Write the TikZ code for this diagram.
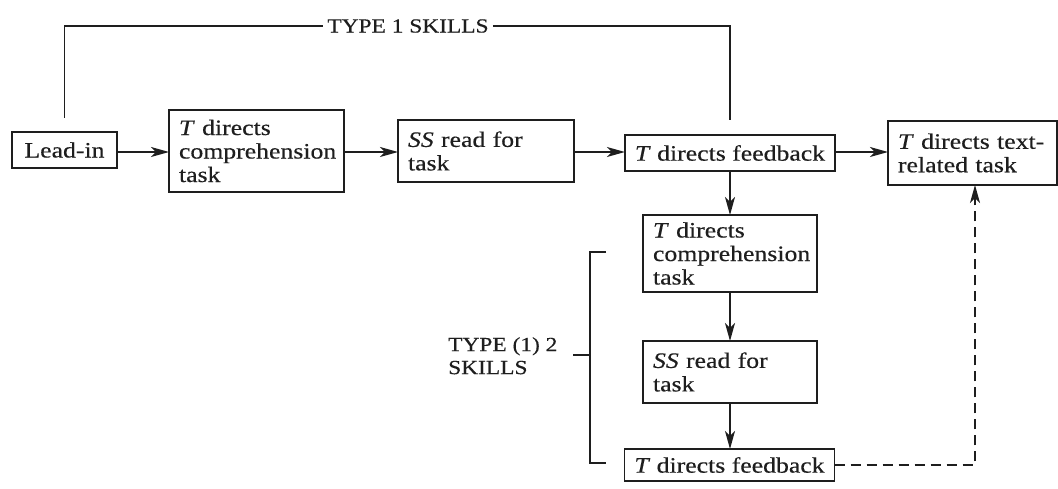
\documentclass[tikz,border=0pt]{standalone}
\usepackage{fontspec}
\setmainfont{Liberation Serif}[FakeStretch=1.17, FakeBold=0.35]
\usetikzlibrary{arrows.meta}
\definecolor{ink}{HTML}{1E1E1E}
\newcommand{\bxfont}{\fontsize{22}{23.5}\selectfont}
\newcommand{\lbfont}{\fontsize{20}{23}\selectfont}
\begin{document}
\begin{tikzpicture}[x=1pt,y=-1pt,
  box/.style={draw=ink, line width=1.5pt, inner xsep=10pt, inner ysep=0pt, outer sep=0pt, align=left, text=ink, font=\bxfont},
  lbl/.style={text=ink, font=\lbfont, inner sep=4pt},
  conn/.style={draw=ink, line width=1.4pt},
  tip/.style={-{Stealth[length=18pt,width=10pt,inset=5pt]}},
  arr/.style={conn, tip},
  dashline/.style={conn, dash pattern=on 10pt off 6pt}]
\useasboundingbox (0,0) rectangle (1058,489);
\fill[white] (0,0) rectangle (1058,489);

% main row
\node[box, minimum width=105pt, minimum height=36pt] (lead) at (64.5,150) {Lead-in};
\node[box, minimum width=175pt, minimum height=82pt, text width=155pt] (c1) at (256.5,151) {\textit{T} directs\\comprehension\\task};
\node[box, minimum width=176pt, minimum height=62pt, text width=156pt] (r1) at (486,151) {\textit{SS} read for\\task};
\node[box, minimum width=210pt, minimum height=36pt] (f1) at (730,153) {\textit{T} directs feedback};
\node[box, minimum width=169pt, minimum height=64pt, text width=149pt] (t) at (972.5,153) {\textit{T} directs text-\\related task};

% column
\node[box, minimum width=174pt, minimum height=77pt, text width=154pt] (c2) at (730,253.5) {\textit{T} directs\\comprehension\\task};
\node[box, minimum width=174pt, minimum height=62pt, text width=154pt] (r2) at (730,372) {\textit{SS} read for\\task};
\node[box, minimum width=209pt, minimum height=32pt] (f2) at (729.5,465) {\textit{T} directs feedback};

% row arrows
\coordinate (row) at (0,152);
\draw[arr] (lead.east |- row) -- (c1.west |- row);
\draw[arr] (c1.east |- row) -- (r1.west |- row);
\draw[arr] (r1.east |- row) -- (f1.west |- row);
\draw[arr] (f1.east |- row) -- (t.west |- row);

% column arrows
\draw[arr] (f1.south) -- (c2.north);
\draw[arr] (c2.south) -- (r2.north);
\draw[arr] (r2.south) -- (r2.south |- f2.north);

% type 1 skills
\coordinate (tl) at ([yshift=14pt]lead.north);
\coordinate (tr) at ([yshift=15pt]f1.north);
\node[lbl] (type1) at (408,26) {TYPE 1 SKILLS};
\draw[conn] (tl) |- (type1.west);
\draw[conn] (type1.east) -| (tr);

% type (1) 2 bracket
\coordinate (b1) at (606,252);
\coordinate (b2) at (606,463);
\coordinate (bm) at (573,355);
\draw[conn] (b1) -- ++(-16,0) |- (b2);
\draw[conn] (bm) -- ++(17,0);
\node[lbl, inner sep=0pt, anchor=north west, align=left] (type2) at (448,337) {TYPE (1) 2\\SKILLS};

% dashed return
\coordinate (dx) at (975,0);
\draw[dashline, tip] (f2.east) -| (dx |- t.south);
\end{tikzpicture}
\end{document}
